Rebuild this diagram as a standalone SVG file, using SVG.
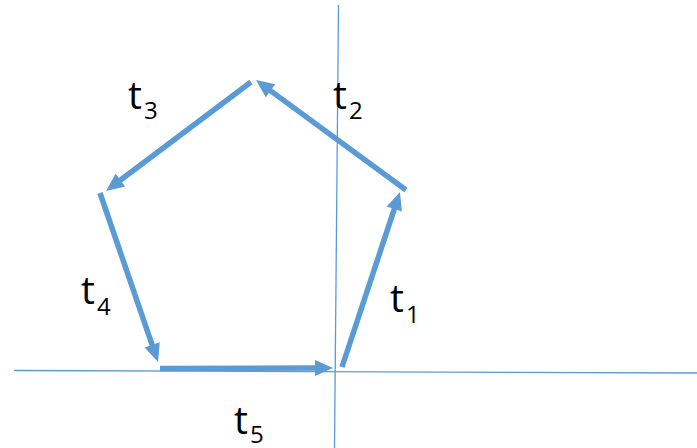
<svg xmlns="http://www.w3.org/2000/svg" width="697" height="448" viewBox="0 0 697 448">
<style>
.axis{stroke:#5B9BD5;stroke-width:1.3;fill:none}
.vec{stroke:#5B9BD5;stroke-width:5.5;fill:none;marker-end:url(#head)}
.lbl{font-family:"Open Sans","Liberation Sans",Arial,sans-serif;fill:#000}
.t{font-size:39px}
.s{font-size:24px}
</style>
<defs>
<marker id="head" markerUnits="userSpaceOnUse" markerWidth="20" markerHeight="20" refX="0" refY="0" orient="auto" viewBox="-1 -10 20 20" overflow="visible">
<path d="M-1,-8 L17,0 L-1,8 z" fill="#5B9BD5"/>
</marker>
</defs>
<g id="axes">
<line class="axis" x1="338.5" y1="5" x2="334.5" y2="448"/>
<line class="axis" x1="14" y1="370.5" x2="697" y2="373"/>
</g>
<g id="connectors">
<line class="vec" x1="342" y1="367" x2="394.6" y2="208.1"/>
<line class="vec" x1="406" y1="190" x2="269.7" y2="90.1"/>
<line class="vec" x1="251" y1="82" x2="119.6" y2="180.8"/>
<line class="vec" x1="100" y1="193" x2="152.5" y2="345.9"/>
<line class="vec" x1="160" y1="368.5" x2="316" y2="368"/>
</g>
<g id="label-t1"><text class="lbl t" x="390" y="312">t</text><text class="lbl s" x="406" y="323">1</text></g>
<g id="label-t2"><text class="lbl t" x="333" y="109">t</text><text class="lbl s" x="349" y="119">2</text></g>
<g id="label-t3"><text class="lbl t" x="128" y="109">t</text><text class="lbl s" x="144" y="119">3</text></g>
<g id="label-t4"><text class="lbl t" x="81" y="304">t</text><text class="lbl s" x="97" y="315">4</text></g>
<g id="label-t5"><text class="lbl t" x="234" y="434">t</text><text class="lbl s" x="250" y="443">5</text></g>
</svg>
